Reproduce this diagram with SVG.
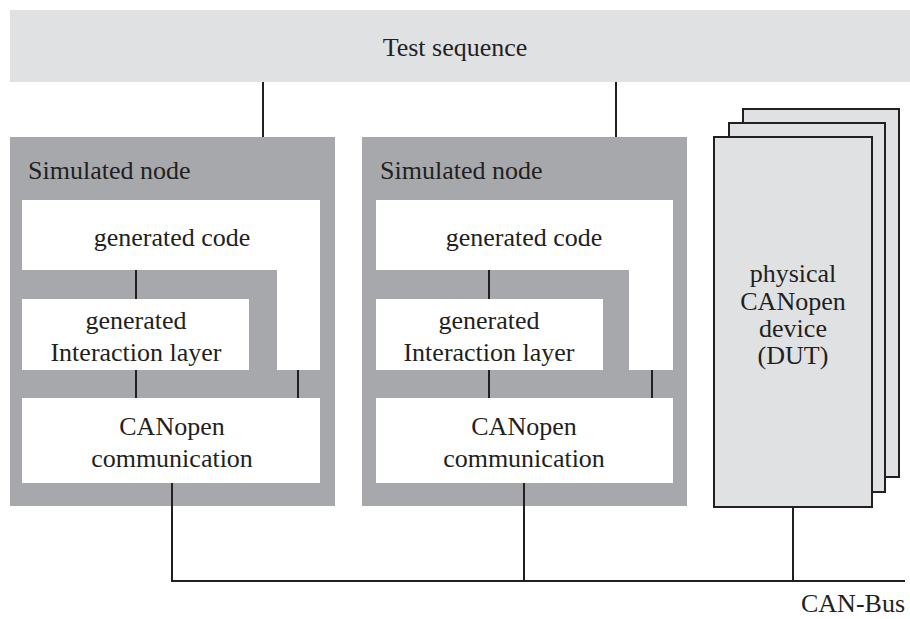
<svg xmlns="http://www.w3.org/2000/svg" width="910" height="619" viewBox="0 0 910 619" font-family="Liberation Serif, DejaVu Serif, serif">
<style>
text{font-size:26px;fill:#231f20;text-anchor:middle}
.outer{fill:#a7a8ab}
.inner{fill:#ffffff}
.dev{fill:#e0e1e3;stroke:#231f20;stroke-width:2}
.ln{stroke:#231f20;stroke-width:2;fill:none}
</style>
<rect width="910" height="619" fill="#ffffff"/>
<g id="test-sequence">
<rect x="10" y="10" width="900" height="72" fill="#e0e1e3"/>
<text x="455" y="56">Test sequence</text>
</g>
<g id="sim-node-1">
<rect class="outer" x="10" y="137" width="325" height="369"/>
<text x="28" y="179" style="text-anchor:start">Simulated node</text>
<polygon class="inner" points="22,200 320,200 320,370 277,370 277,270 22,270"/>
<text x="172" y="246">generated code</text>
<rect class="inner" x="22" y="299" width="227" height="71"/>
<text x="136" y="329">generated</text>
<text x="136" y="361">Interaction layer</text>
<rect class="inner" x="22" y="398" width="298" height="85"/>
<text x="172" y="435">CANopen</text>
<text x="172" y="467">communication</text>
</g>
<g id="sim-node-2">
<rect class="outer" x="362" y="137" width="325" height="369"/>
<text x="380" y="179" style="text-anchor:start">Simulated node</text>
<polygon class="inner" points="376,200 673,200 673,370 629,370 629,270 376,270"/>
<text x="524" y="246">generated code</text>
<rect class="inner" x="376" y="299" width="227" height="71"/>
<text x="489" y="329">generated</text>
<text x="489" y="361">Interaction layer</text>
<rect class="inner" x="376" y="398" width="297" height="85"/>
<text x="524" y="435">CANopen</text>
<text x="524" y="467">communication</text>
</g>
<g id="dut">
<rect class="dev" x="743" y="109" width="156" height="368"/>
<rect class="dev" x="729" y="123" width="156" height="369"/>
<rect class="dev" x="714" y="137" width="158" height="370"/>
<text x="793" y="282">physical</text>
<text x="793" y="310">CANopen</text>
<text x="793" y="337">device</text>
<text x="793" y="364">(DUT)</text>
</g>
<g id="connectors">
<line class="ln" x1="263" y1="82" x2="263" y2="137"/>
<line class="ln" x1="616" y1="82" x2="616" y2="137"/>
<line class="ln" x1="136" y1="270" x2="136" y2="299"/>
<line class="ln" x1="136" y1="370" x2="136" y2="398"/>
<line class="ln" x1="298" y1="370" x2="298" y2="398"/>
<line class="ln" x1="489" y1="270" x2="489" y2="299"/>
<line class="ln" x1="489" y1="370" x2="489" y2="398"/>
<line class="ln" x1="652" y1="370" x2="652" y2="398"/>
<line class="ln" x1="172" y1="483" x2="172" y2="581"/>
<line class="ln" x1="524" y1="483" x2="524" y2="581"/>
<line class="ln" x1="793" y1="507" x2="793" y2="581"/>
<line class="ln" x1="171" y1="581" x2="905" y2="581"/>
</g>
<g id="can-bus-label">
<text x="905" y="612" style="text-anchor:end">CAN-Bus</text>
</g>
</svg>
